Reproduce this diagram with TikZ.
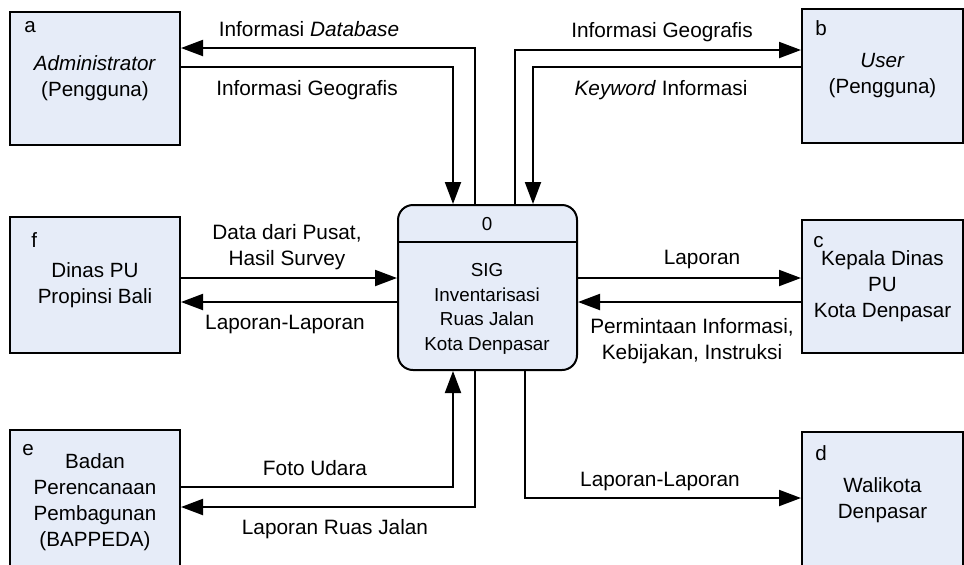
\documentclass[tikz,border=0pt]{standalone}
\usepackage{fontspec}
\setmainfont{Liberation Sans}
\usetikzlibrary{arrows.meta}

\tikzset{
	entity/.style={draw=cline,fill=cfill,line width=1pt,inner sep=0pt,align=center,font=\fontsize{10.3}{13}\selectfont},
	process/.style={draw=cline,fill=cfill,line width=1pt,rounded corners=7.5pt,inner sep=0pt},
	proctext/.style={align=center,font=\fontsize{9.4}{12.3}\selectfont},
	tag/.style={anchor=base west,inner sep=0pt,font=\fontsize{10.3}{13}\selectfont},
	flowlabel/.style={align=center,inner sep=0pt,font=\fontsize{10.4}{13.3}\selectfont},
	flow/.style={draw=cline,line width=1pt,-{Triangle[length=11pt,width=8pt]}}
}

\begin{document}
\begin{tikzpicture}[x=0.5pt,y=-0.5pt]
			\definecolor{cline}{rgb}{0.0,0.0,0.0}
			\definecolor{cfill}{RGB}{230,236,248}
			\useasboundingbox (0,0) rectangle (964,564);
			%
			\node[entity,minimum width=85pt,minimum height=66.5pt] (a) at (95,78) {\textit{Administrator}\\(Pengguna)};
			\node[entity,minimum width=80.5pt,minimum height=67pt] (b) at (882.5,76) {\textit{User}\\(Pengguna)};
			\node[entity,minimum width=85pt,minimum height=68pt] (f) at (95,285) {Dinas PU\\Propinsi Bali};
			\node[entity,minimum width=80.5pt,minimum height=66.5pt] (c) at (882.5,286.5) {Kepala Dinas\\PU\\Kota Denpasar};
			\node[entity,minimum width=85pt,minimum height=72pt] (e) at (95,502) {Badan\\Perencanaan\\Pembagunan\\(BAPPEDA)};
			\node[entity,minimum width=80.5pt,minimum height=68pt] (d) at (882.5,500) {Walikota\\Denpasar};
			\node[process,minimum width=89.5pt,minimum height=82.5pt] (p) at (487.5,287.5) {};
			%
			\node[tag] (a-id) at (24,32) {a};
			\node[tag] (b-id) at (815,35) {b};
			\node[tag] (f-id) at (31,247) {f};
			\node[tag] (c-id) at (813,247) {c};
			\node[tag] (e-id) at (22,455) {e};
			\node[tag] (d-id) at (815,460) {d};
			%
			\coordinate (pdiv) at (0,242);
			\draw[draw=cline,line width=1pt] (p.west |- pdiv) -- (p.east |- pdiv);
			\node[proctext] (p-id) at (487,224) {0};
			\node[proctext] (p-name) at (487,309) {SIG\\Inventarisasi\\Ruas Jalan\\Kota Denpasar};
			%
			\coordinate (ag) at (453,67);
			\coordinate (ad) at (475,48);
			\coordinate (bg) at (515,50);
			\coordinate (bk) at (533,67);
			\coordinate (fd) at (0,278);
			\coordinate (fl) at (0,302);
			\coordinate (eu) at (453,487);
			\coordinate (er) at (475,507);
			\coordinate (dl) at (525,498);
			%
			\draw[flow] (a.east |- ag) -| (p.north -| ag);
			\draw[flow] (p.north -| ad) |- (a.east |- ad);
			\draw[flow] (p.north -| bg) |- (b.west |- bg);
			\draw[flow] (b.west |- bk) -| (p.north -| bk);
			\draw[flow] (f.east |- fd) -- (p.west |- fd);
			\draw[flow] (p.west |- fl) -- (f.east |- fl);
			\draw[flow] (p.east |- fd) -- (c.west |- fd);
			\draw[flow] (c.west |- fl) -- (p.east |- fl);
			\draw[flow] (e.east |- eu) -| (p.south -| eu);
			\draw[flow] (p.south -| er) |- (e.east |- er);
			\draw[flow] (p.south -| dl) |- (d.west |- dl);
			%
			\node[flowlabel] (l-ad) at (309,29) {Informasi \textit{Database}};
			\node[flowlabel] (l-ag) at (307,90) {Informasi Geografis};
			\node[flowlabel] (l-bg) at (662,32) {Informasi Geografis};
			\node[flowlabel] (l-bk) at (661,90) {\textit{Keyword} Informasi};
			\node[flowlabel] (l-fd) at (287,247) {Data dari Pusat,\\Hasil Survey};
			\node[flowlabel] (l-fl) at (285,324) {Laporan-Laporan};
			\node[flowlabel] (l-cd) at (702,259) {Laporan};
			\node[flowlabel] (l-cl) at (692,341) {Permintaan Informasi,\\Kebijakan, Instruksi};
			\node[flowlabel] (l-eu) at (315,468) {Foto Udara};
			\node[flowlabel] (l-er) at (335,529) {Laporan Ruas Jalan};
			\node[flowlabel] (l-dl) at (660,481) {Laporan-Laporan};
			%
		\end{tikzpicture}
\end{document}
